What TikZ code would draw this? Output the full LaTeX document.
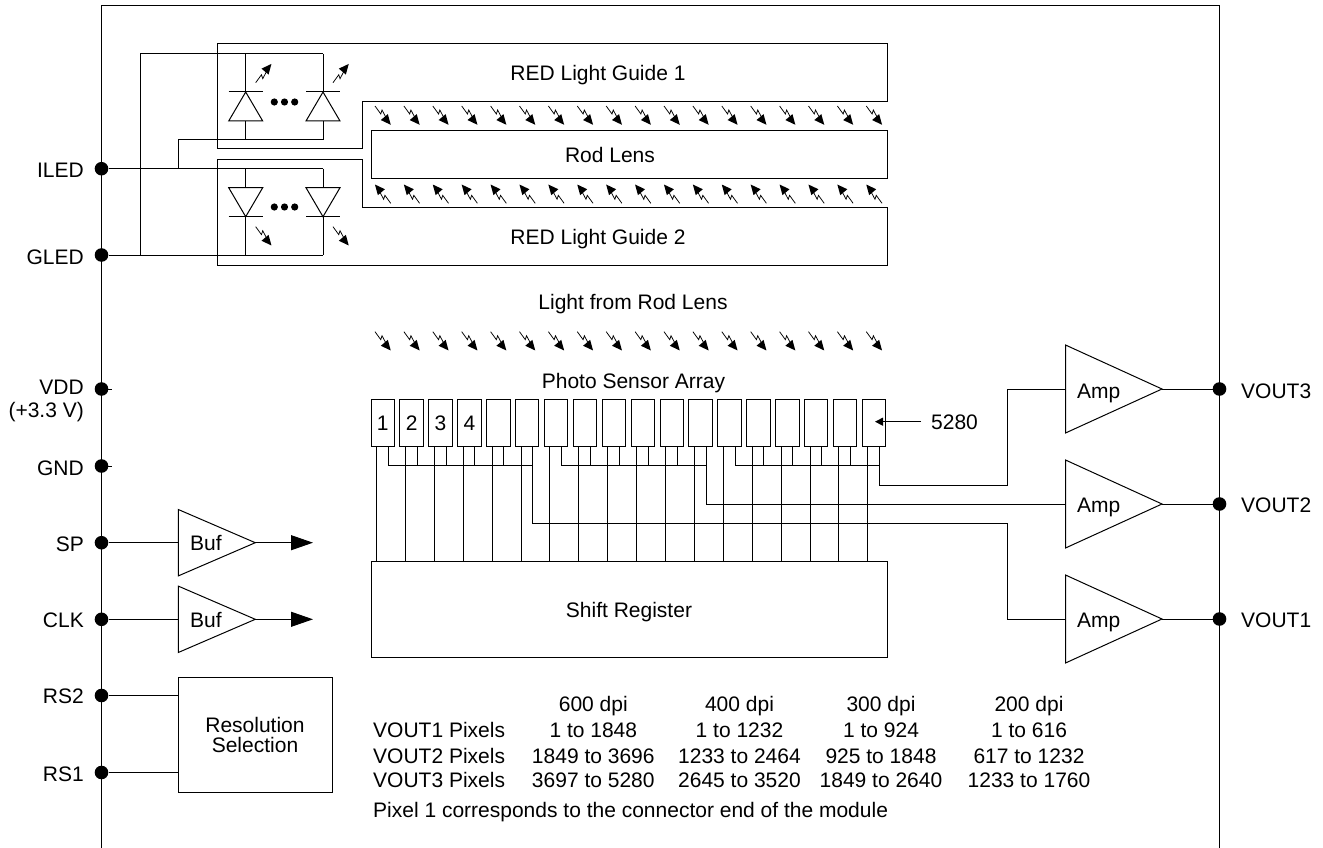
\documentclass[tikz,border=0pt]{standalone}
\usepackage{fontspec}
\setmainfont{Liberation Sans}
\usetikzlibrary{arrows.meta}
\tikzset{
  wire/.style={line width=1pt,line join=miter},
  pindot/.style={circle,fill=black,inner sep=0pt,minimum size=13.6pt},
  pinname/.style={anchor=base east,inner sep=0pt},
  txt/.style={anchor=base,inner sep=0pt},
  txtleft/.style={anchor=base west,inner sep=0pt},
  block/.style={draw,wire,inner sep=0pt,align=center},
  pixbox/.style={draw,wire,inner sep=0pt,minimum width=23.4pt,minimum height=47.7pt},
  lightray/.pic={
    \draw[line width=0.75pt] (0,0) -- (9.8,0.7) -- (7.6,-2.8) -- (16,-1);
    \fill (14.5,-4.6) -- (24.5,0) -- (14.5,4.6) -- cycle;
  }
}
\begin{document}
\begin{tikzpicture}[x=1pt,y=-1pt,font=\fontsize{21}{24}\selectfont]
  \useasboundingbox (0,0) rectangle (1323,848);
  % module outline, open at the bottom
  \draw[wire] (101.5,848) -- (101.5,6) -- (1219.5,6) -- (1219.5,848);
  % light guides and lens
  \draw[wire] (217,44) -- (887,44) -- (887,102) -- (362,102) -- (362,149) -- (217,149) -- cycle;
  \draw[wire] (217,159.3) -- (362,159.3) -- (362,207) -- (887,207) -- (887,265) -- (217,265) -- cycle;
  \node[block,minimum width=516pt,minimum height=48pt] (rodlens) at (629,154.3) {};
  \node[txt] (rodlbl) at (610,163) {Rod Lens};
  \node[txt] (guide1) at (598,81) {RED Light Guide 1};
  \node[txt] (guide2) at (598,244) {RED Light Guide 2};
  \node[txt] (lightlbl) at (633,309) {Light from Rod Lens};
  \node[txt] (arraylbl) at (633.5,388) {Photo Sensor Array};
  % terminals on the left
  \foreach \n/\y in {ILED/168.7,GLED/255,VDD/389,GND/466,SP/542.7,CLK/619.3,RSb/695.5,RSa/772.5}
    \node[pindot] (dot\n) at (101.5,\y) {};
  \node[pinname] (nameILED) at (84,178) {ILED};
  \node[pinname] (nameGLED) at (84,264) {GLED};
  \node[pinname] (nameVDD) at (84,394) {VDD};
  \node[pinname] (nameVDDb) at (84,417) {(+3.3 V)};
  \node[pinname] (nameGND) at (84,475) {GND};
  \node[pinname] (nameSP) at (84,551) {SP};
  \node[pinname] (nameCLK) at (84,627) {CLK};
  \node[pinname] (nameRSb) at (84,703) {RS2};
  \node[pinname] (nameRSa) at (84,781) {RS1};
  \draw[wire] (dotVDD.center) -- ++(10.5,0);
  \draw[wire] (dotGND.center) -- ++(10.5,0);
  % LED strings
  \coordinate (gledbend) at (140,255);
  \coordinate (ledtop) at (323,54);
  \coordinate (ledbot) at (323,140);
  \coordinate (iledtap) at (178.3,168.7);
  \coordinate (iledend) at (323,168.7);
  \coordinate (gledend) at (323,255);
  \draw[wire] (dotGLED) -- (gledend);
  \draw[wire] (gledbend) |- (ledtop);
  \draw[wire] (dotILED) -- (iledend);
  \draw[wire] (iledtap) |- (ledbot);
  \foreach \x in {245.7,323} {
    \draw[wire] (\x,54) -- (\x,92);
    \draw[wire] (\x,121) -- (\x,140);
    \draw[wire] (\x-17,92) -- (\x+17,92);
    \draw[wire] (\x,92) -- (\x+17,121) -- (\x-17,121) -- cycle;
    \draw[wire] (\x,168.7) -- (\x,187.7);
    \draw[wire] (\x,216.7) -- (\x,255);
    \draw[wire] (\x-17,216.7) -- (\x+17,216.7);
    \draw[wire] (\x,216.7) -- (\x+17,187.7) -- (\x-17,187.7) -- cycle;
    \pic[rotate=50,yscale=-1] at (\x+10,82.7) {lightray};
    \pic[rotate=-50] at (\x+10,226.7) {lightray};
  }
  \foreach \x in {274.3,284.5,294.7} {
    \fill (\x,102) circle (3.6pt);
    \fill (\x,207) circle (3.6pt);
  }
  % rays
  \foreach \i in {0,...,17} {
    \pgfmathsetmacro\rx{375+28.9*\i}
    \pic[rotate=-50] at (\rx,106) {lightray};
    \pic[rotate=-50] at (\rx,331.7) {lightray};
    \pic[rotate=130] at (\rx+15.7,203.3) {lightray};
  }
  % sensor array and shift register
  \node[block,minimum width=516pt,minimum height=96pt] (shiftreg) at (629,609) {};
  \node[txt] (shiftlbl) at (629,617) {Shift Register};
  \coordinate (busy) at (0,465.7);
  \foreach \i in {1,...,18} {
    \pgfmathsetmacro\px{382.7+28.9*(\i-1)}
    \node[pixbox] (pix\i) at (\px,422.9) {\ifnum\i<5 \i\fi};
    \coordinate (pl\i) at ([xshift=6pt]pix\i.south west);
    \coordinate (pr\i) at ([xshift=17.7pt]pix\i.south west);
    \draw[wire] (pl\i) -- (pl\i|-shiftreg.north);
    \draw[wire] (pr\i) -- (pr\i|-busy);
  }
  \draw[wire] (pr1|-busy) -- (pr6|-busy);
  \draw[wire] (pr7|-busy) -- (pr12|-busy);
  \draw[wire] (pr13|-busy) -- (pr18|-busy);
  \node[txtleft] (lastpix) at (931,429) {5280};
  \coordinate (lastpixtip) at (875,421.7);
  \draw[wire,-{Triangle[length=8pt,width=8pt]}] (921,421.7) -- (lastpixtip);
  % output amplifiers
  \foreach \n/\y/\yb in {3/389/398,2/504/512,1/619/627} {
    \coordinate (ampin\n) at (1065.5,\y);
    \coordinate (ampout\n) at (1162,\y);
    \draw[wire] (1065.5,\y-44) -- (ampout\n) -- (1065.5,\y+44) -- cycle;
    \node[txtleft] (amp\n) at (1077,\yb) {Amp};
    \node[pindot] (dotVOUT\n) at (1219.5,\y) {};
    \node[txtleft] (nameVOUT\n) at (1241,\yb) {VOUT\n};
    \draw[wire] (ampout\n) -- (dotVOUT\n);
  }
  \draw[wire] (pr6) |- (1007.3,523.3) |- (ampin1);
  \draw[wire] (pr12) |- (ampin2);
  \draw[wire] (pr18) |- (1007.3,485) |- (ampin3);
  % clock buffers
  \foreach \n/\y/\yb in {SP/542.7/550,CLK/619.3/627} {
    \coordinate (bufin\n) at (178.3,\y);
    \coordinate (bufout\n) at (255.3,\y);
    \coordinate (bufend\n) at (313,\y);
    \draw[wire] (178.3,\y-33.2) -- (bufout\n) -- (178.3,\y+33.2) -- cycle;
    \node[txtleft] (buf\n) at (190,\yb) {Buf};
    \draw[wire] (dot\n) -- (bufin\n);
    \draw[wire,-{Triangle[length=22pt,width=15pt]}] (bufout\n) -- (bufend\n);
  }
  % resolution selection
  \node[block,minimum width=154pt,minimum height=115pt,font=\fontsize{21}{20}\selectfont] (ressel) at (255,734.5) {Resolution\\Selection};
  \draw[wire] (dotRSb) -- (dotRSb-|ressel.west);
  \draw[wire] (dotRSa) -- (dotRSa-|ressel.west);
  % pixel table
  \node[txtleft] (rowa) at (373,737) {VOUT1 Pixels};
  \node[txtleft] (rowb) at (373,763) {VOUT2 Pixels};
  \node[txtleft] (rowc) at (373,787) {VOUT3 Pixels};
  \node[txtleft] (notelbl) at (373,817) {Pixel 1 corresponds to the connector end of the module};
  \foreach \c/\x/\h/\a/\b/\e in {
    p/593.3/600 dpi/1 to 1848/1849 to 3696/3697 to 5280,
    q/739.5/400 dpi/1 to 1232/1233 to 2464/2645 to 3520,
    r/881/300 dpi/1 to 924/925 to 1848/1849 to 2640,
    s/1029/200 dpi/1 to 616/617 to 1232/1233 to 1760} {
    \node[txt] (\c head) at (\x,711) {\h};
    \node[txt] (\c rowa) at (\x,737) {\a};
    \node[txt] (\c rowb) at (\x,763) {\b};
    \node[txt] (\c rowc) at (\x,787) {\e};
  }
\end{tikzpicture}
\end{document}
